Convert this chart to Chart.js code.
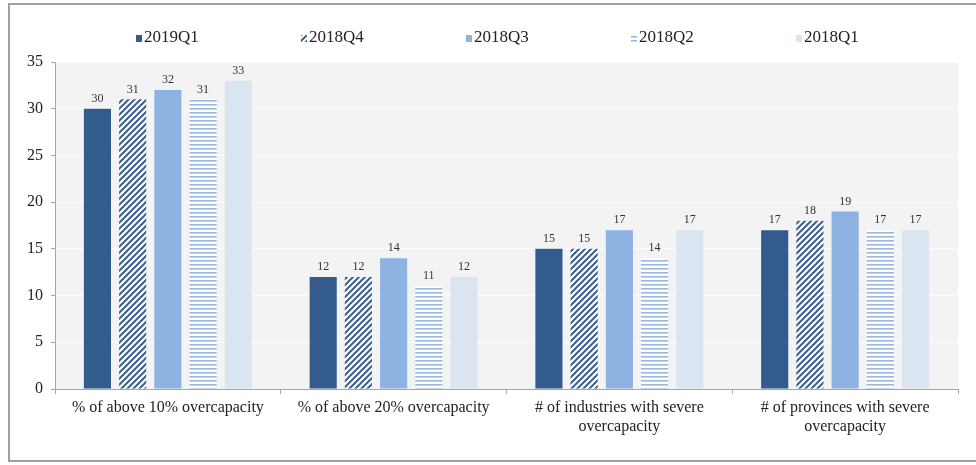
<!DOCTYPE html>
<html>
<head>
<meta charset="utf-8">
<script src="https://cdn.jsdelivr.net/npm/chart.js@4/dist/chart.umd.min.js"></script>
<style>
  html, body { margin: 0; padding: 0; background: #ffffff; }
  #wrap { position: absolute; left: 0; top: 0; width: 976px; height: 465px; }
  #frame { position: absolute; left: 8px; top: 3px; width: 975px; height: 459px;
           border: 2px solid #a0a0a0; box-sizing: border-box; pointer-events: none; }
</style>
</head>
<body>
<div id="wrap"><canvas id="c" width="976" height="465"></canvas></div>
<div id="frame"></div>
<script>
// Categories along the x axis (multi-line labels as arrays)
const categories = [
  "% of above 10% overcapacity",
  "% of above 20% overcapacity",
  ["# of industries with severe", "overcapacity"],
  ["# of provinces with severe", "overcapacity"]
];

// Series, one per quarter
const seriesNames = ["2019Q1", "2018Q4", "2018Q3", "2018Q2", "2018Q1"];
const q2019Q1 = [30, 12, 15, 17];
const q2018Q4 = [31, 12, 15, 18];
const q2018Q3 = [32, 14, 17, 19];
const q2018Q2 = [31, 11, 14, 17];
const q2018Q1 = [33, 12, 17, 17];

// Y axis ticks
const yTicks = [0, 5, 10, 15, 20, 25, 30, 35];

const SERIF = "'Liberation Serif', 'Times New Roman', serif";

// Diagonal hatch: dark blue stripes on white
function diagonalPattern() {
  const p = document.createElement('canvas');
  p.width = 6; p.height = 6;
  const g = p.getContext('2d');
  g.fillStyle = '#ffffff';
  g.fillRect(0, 0, 6, 6);
  g.strokeStyle = '#3b5f8f';
  g.lineWidth = 2;
  g.beginPath();
  g.moveTo(-1, 7); g.lineTo(7, -1);
  g.moveTo(-4, 4); g.lineTo(4, -4);
  g.moveTo(2, 10); g.lineTo(10, 2);
  g.stroke();
  return g.createPattern(p, 'repeat');
}

// Horizontal stripes: light blue lines on white
function horizontalPattern() {
  const p = document.createElement('canvas');
  p.width = 4; p.height = 4;
  const g = p.getContext('2d');
  g.fillStyle = '#ffffff';
  g.fillRect(0, 0, 4, 4);
  g.fillStyle = '#9ab8de';
  g.fillRect(0, 0, 4, 1.6);
  return g.createPattern(p, 'repeat');
}

const colors = ['#335b8e', diagonalPattern(), '#8db3e2', horizontalPattern(), '#dbe5f1'];
const values = [q2019Q1, q2018Q4, q2018Q3, q2018Q2, q2018Q1];

// Light grey plot background
const plotBackground = {
  id: 'plotBackground',
  beforeDraw(chart) {
    const { ctx, chartArea: a } = chart;
    ctx.save();
    ctx.fillStyle = '#f3f3f3';
    ctx.fillRect(a.left, a.top, a.right - a.left, a.bottom - a.top);
    ctx.restore();
  }
};

// Value labels above each bar
const valueLabels = {
  id: 'valueLabels',
  afterDatasetsDraw(chart) {
    const { ctx } = chart;
    ctx.save();
    ctx.font = '12px ' + SERIF;
    ctx.fillStyle = '#333333';
    ctx.textAlign = 'center';
    ctx.textBaseline = 'bottom';
    chart.data.datasets.forEach((ds, i) => {
      chart.getDatasetMeta(i).data.forEach((bar, j) => {
        ctx.fillText(String(ds.data[j]), bar.x, bar.y - 4);
      });
    });
    ctx.restore();
  }
};

// Widely spaced single-row legend across the top
const spacedLegend = {
  id: 'spacedLegend',
  afterDraw(chart) {
    const { ctx } = chart;
    const step = 165, box = 6, startX = 136, midY = 38;
    ctx.save();
    ctx.font = '17px ' + SERIF;
    ctx.textBaseline = 'middle';
    ctx.textAlign = 'left';
    chart.data.datasets.forEach((ds, i) => {
      const x = startX + i * step;
      ctx.fillStyle = ds.backgroundColor;
      ctx.fillRect(x, midY - box / 2, box, box + 1);
      ctx.fillStyle = '#222222';
      ctx.fillText(ds.label, x + box + 2, midY);
    });
    ctx.restore();
  }
};

new Chart(document.getElementById('c'), {
  type: 'bar',
  data: {
    labels: categories,
    datasets: seriesNames.map((name, i) => ({
      label: name,
      data: values[i],
      backgroundColor: colors[i],
      borderWidth: 0,
      categoryPercentage: 0.78,
      barPercentage: 0.77
    }))
  },
  options: {
    responsive: false,
    animation: false,
    devicePixelRatio: 1,
    layout: { padding: { left: 0, right: 18, top: 62, bottom: 0 } },
    plugins: {
      legend: { display: false },
      tooltip: { enabled: false }
    },
    scales: {
      x: {
        afterFit(scale) { scale.height = 76; },
        grid: { display: true, drawOnChartArea: false, offset: true, tickLength: 5, color: '#a6a6a6' },
        border: { color: '#a6a6a6', width: 1 },
        ticks: { color: '#222222', font: { family: SERIF, size: 16, lineHeight: 1.2 }, padding: 4, maxRotation: 0, autoSkip: false }
      },
      y: {
        min: 0,
        max: 35,
        afterFit(scale) { scale.width = 55; },
        afterBuildTicks(scale) { scale.ticks = yTicks.map(v => ({ value: v })); },
        grid: { color: '#fbfbfb', tickColor: '#a6a6a6', tickLength: 4 },
        border: { color: '#a6a6a6', width: 1 },
        ticks: { color: '#222222', font: { family: SERIF, size: 16 }, padding: 8 }
      }
    }
  },
  plugins: [plotBackground, valueLabels, spacedLegend]
});
</script>
</body>
</html>
